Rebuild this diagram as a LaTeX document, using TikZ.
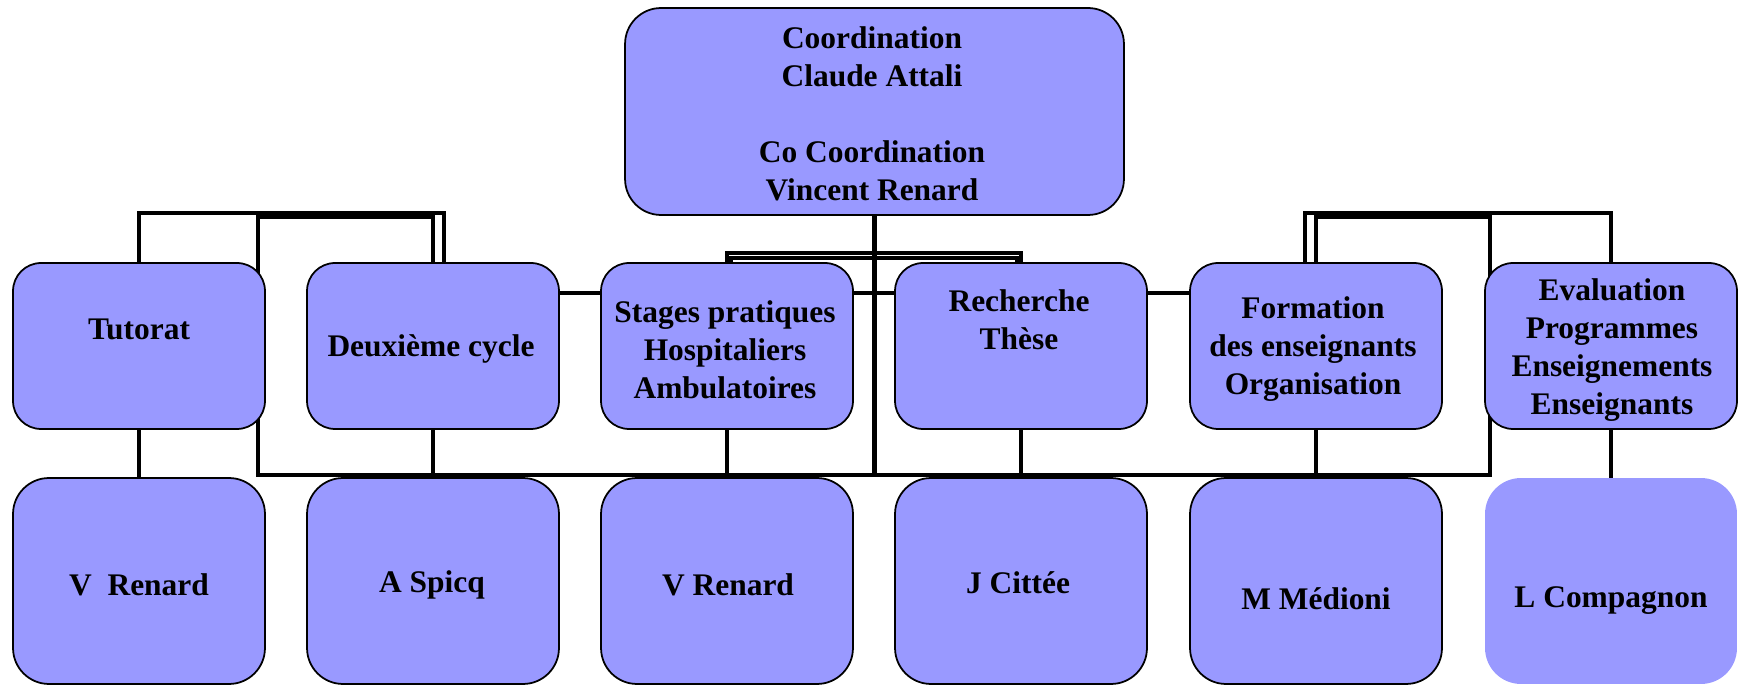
\documentclass[tikz,border=0pt]{standalone}
\usepackage{fontspec}
\setmainfont{Liberation Serif}
\usetikzlibrary{backgrounds}
\definecolor{boxblue}{HTML}{9999FF}

\begin{document}
\begin{tikzpicture}[x=0.02cm, y=-0.02cm,
    box/.style={rectangle, draw=black, line width=1pt, fill=boxblue, inner sep=0pt, outer sep=0pt, minimum width=5.04cm},
    unit/.style={box, minimum height=3.32cm, rounded corners=0.56cm},
    person/.style={box, minimum height=4.12cm, rounded corners=0.72cm},
    txt/.style={font=\fontsize{17.9}{21.6}\selectfont\bfseries, align=center, inner sep=0pt},
    link/.style={line width=2.7pt}]
    \useasboundingbox (0,0) rectangle (1738,685);

    % Coordination box
    \node[box, minimum width=9.98cm, minimum height=4.14cm, rounded corners=0.72cm] (coord) at (874.5,111.5) {};
    \node[txt] at (872,114) {Coordination\\Claude Attali\\[21.6pt]Co Coordination\\Vincent Renard};

    % Units
    \node[unit] (tut) at (139,346) {};
    \node[txt] at (139,329) {Tutorat};
    \node[unit] (deux) at (433,346) {};
    \node[txt] at (431,349) {Deuxième cycle};
    \node[unit] (stag) at (727,346) {};
    \node[txt] at (725,350) {Stages pratiques\\Hospitaliers\\Ambulatoires};
    \node[unit] (rech) at (1021,346) {};
    \node[txt] at (1019,320) {Recherche\\Thèse};
    \node[unit] (form) at (1316,346) {};
    \node[txt] at (1313,349) {Formation\\des enseignants\\Organisation};
    \node[unit] (eval) at (1611,346) {};
    \node[txt] at (1612,350) {Evaluation\\Programmes\\Enseignements\\Enseignants};

    % People
    \node[person] (p-tut) at (139,581) {};
    \node[txt] at (139,585) {V\ \ Renard};
    \node[person] (p-deux) at (433,581) {};
    \node[txt] at (432,585) {A Spicq};
    \node[person] (p-stag) at (727,581) {};
    \node[txt] at (728,585) {V Renard};
    \node[person] (p-rech) at (1021,581) {};
    \node[txt] at (1018,583) {J Cittée};
    \node[person] (p-form) at (1316,581) {};
    \node[txt] at (1316,599) {M Médioni};
    \node[person, draw=none] (p-eval) at (1611,581) {};
    \node[txt] at (1611,601) {L Compagnon};

    % Links
    \begin{scope}[on background layer]
        \coordinate (busL) at (258,475);
        \coordinate (busR) at (1490,475);
        \coordinate (kL) at (258,217);
        \coordinate (kR) at (1490,217);
        \coordinate (bL) at (444,213);
        \coordinate (bR) at (1305,213);
        \coordinate (mid) at (874,253);
        \coordinate (mid2) at (874,258);
        \coordinate (hl) at (874,293);

        \draw[link] (coord.south) -- (coord.south |- busL);
        \draw[link] (deux.north) |- (kL) -- (busL) -- (busR) -- (kR) -| (form.north);
        \draw[link] (tut.north) |- (bL) -- (bL |- deux.north);
        \draw[link] (bR |- form.north) -- (bR) -| (eval.north);
        \draw[link] (stag.north) |- (mid) -| (rech.north);
        \draw[link] ([xshift=0.08cm]stag.north) |- (mid2) -| ([xshift=-0.08cm]rech.north);
        \draw[link] (deux.east |- hl) -- (form.west |- hl);
        \foreach \u in {tut,deux,stag,rech,form,eval}
            \draw[link] (\u.south) -- (p-\u.north);
    \end{scope}
\end{tikzpicture}
\end{document}
